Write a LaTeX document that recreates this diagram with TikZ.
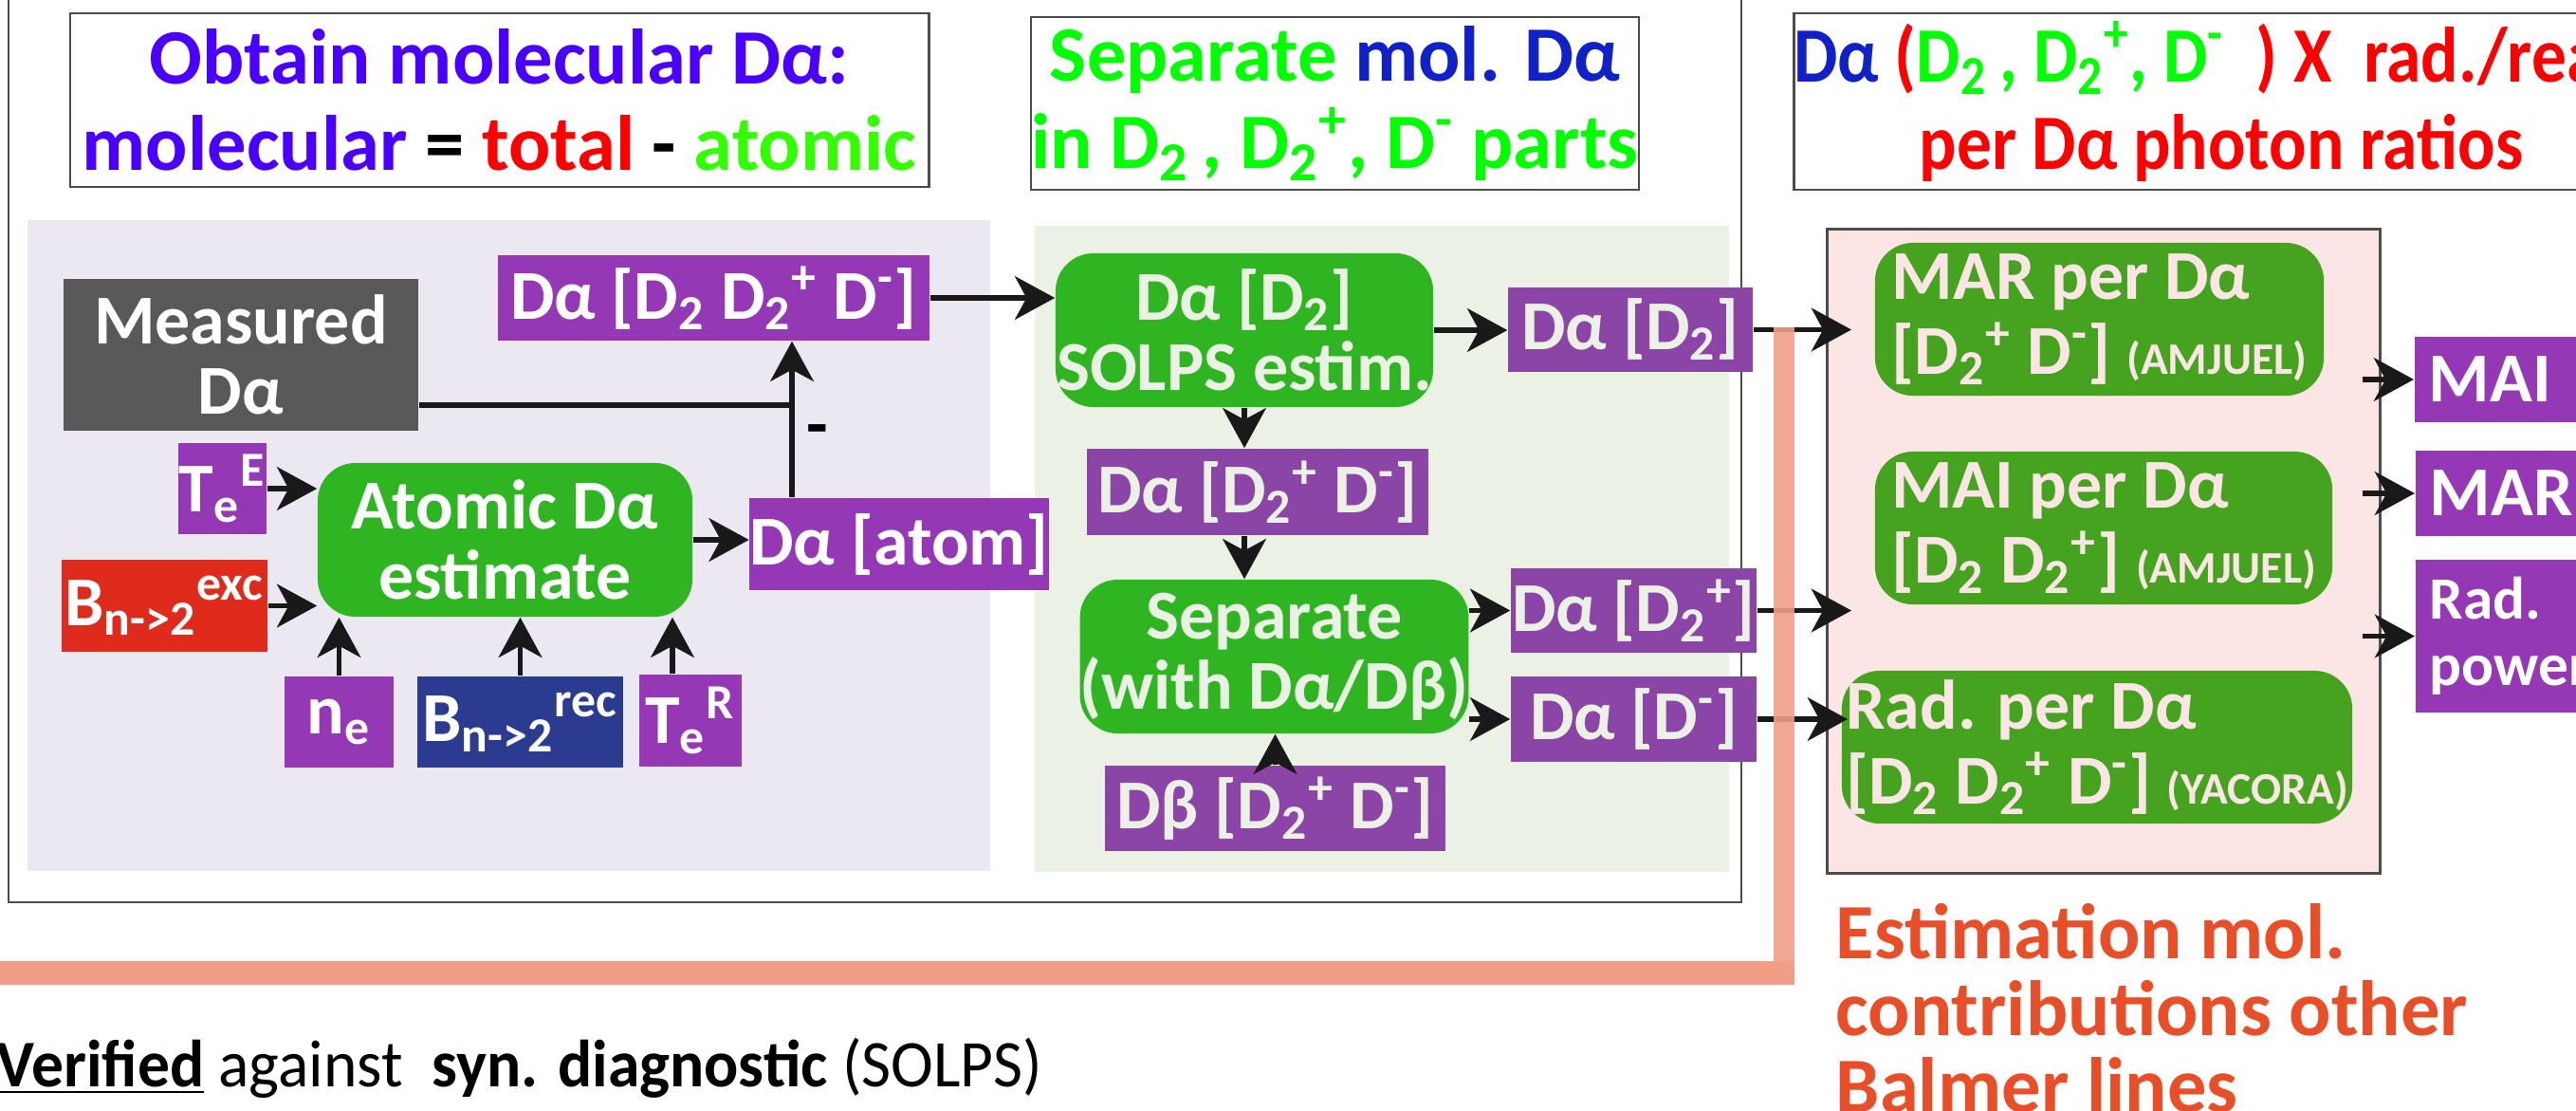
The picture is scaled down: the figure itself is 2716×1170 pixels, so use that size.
\documentclass[tikz,border=0pt]{standalone}
\usepackage{fontspec}
\setmainfont{Carlito}
\newfontfamily\noteface[FakeStretch=0.96]{Carlito}
\newfontfamily\ratioface[FakeStretch=0.89]{Carlito}
\usetikzlibrary{arrows.meta,positioning}
\definecolor{violetT}{rgb}{0.29, 0.0, 1.0}
\definecolor{redT}{rgb}{1.0, 0.0, 0.0}
\definecolor{greenT}{rgb}{0.2, 1.0, 0.0}
\definecolor{limeT}{rgb}{0.0, 1.0, 0.0}
\definecolor{blueT}{rgb}{0.06, 0.13, 0.78}
\definecolor{lavender}{rgb}{0.92, 0.91, 0.95}
\definecolor{mint}{rgb}{0.92, 0.945, 0.9}
\definecolor{blush}{rgb}{0.99, 0.9, 0.9}
\definecolor{plum}{rgb}{0.58, 0.22, 0.71}
\definecolor{plumB}{rgb}{0.545, 0.27, 0.65}
\definecolor{leaf}{rgb}{0.18, 0.71, 0.13}
\definecolor{leafB}{rgb}{0.27, 0.64, 0.12}
\definecolor{slate}{rgb}{0.35, 0.35, 0.35}
\definecolor{brick}{rgb}{0.87, 0.17, 0.11}
\definecolor{navyB}{rgb}{0.17, 0.23, 0.56}
\definecolor{salmon}{rgb}{0.95, 0.62, 0.53}
\definecolor{rust}{rgb}{0.91, 0.31, 0.16}
\definecolor{edge}{rgb}{0.3, 0.3, 0.3}
\newcommand{\boxfont}{\fontsize{21}{21}\selectfont\bfseries}
\newcommand{\ratiofont}{\fontsize{21}{22.5}\selectfont\bfseries}
\newcommand{\titlefont}{\fontsize{23.5}{26}\selectfont\bfseries}
\newcommand{\smallfont}{\fontsize{13.5}{14}\selectfont}
\newcommand{\notefont}{\noteface\fontsize{20}{24}\selectfont}
\newcommand{\orangefont}{\fontsize{23.5}{23}\selectfont\bfseries}
\newcommand{\Dtwo}{D\textsubscript{2}}
\newcommand{\Dplus}{D\textsubscript{2}\textsuperscript{+}}
\newcommand{\Dminus}{D\textsuperscript{-}}

\begin{document}
\begin{tikzpicture}[x=0.01cm,y=-0.01cm,>={Stealth[length=12pt,width=13pt,inset=3.5pt]},
  flow/.style={fill=plum,text=white,inner sep=0pt,align=center,font=\boxfont},
  flowB/.style={flow,fill=plumB,text=mint},
  proc/.style={fill=leaf,text=white,rounded corners=0.4cm,inner sep=0pt,align=center,font=\boxfont},
  procM/.style={proc,text=mint},
  procB/.style={proc,fill=leafB,text=blush,align=left,font=\ratiofont},
  title/.style={draw=edge,line width=0.7pt,fill=white,inner sep=0pt,align=center,font=\titlefont},
  link/.style={->,line width=1.5pt,black!90}]
\useasboundingbox (0,0) rectangle (2716,1170);
\clip (0,0) rectangle (2716,1170);

% frame and panels
\draw[edge,line width=0.6pt] (9,-20) rectangle (1836,951);
\fill[lavender] (29,232) rectangle (1044,918);
\fill[mint] (1091,238) rectangle (1823,919);
\node[draw=edge,line width=0.8pt,fill=blush,minimum width=5.82cm,minimum height=6.78cm] (pink) at (2218,581) {};

% titles
\node[title,minimum width=9.05cm,minimum height=1.83cm] (tobtain) at (526.5,105.5)
  {\color{violetT}Obtain molecular Dα:\\ {\color{violetT}molecular} {\color{black}=} {\color{redT}total} {\color{black}-} {\color{greenT}atomic}};
\node[title,minimum width=6.41cm,minimum height=1.82cm] (tsep) at (1407.5,109)
  {{\color{limeT}Separate} {\color{blueT}mol. Dα}\\ {\color{limeT}in \Dtwo\,, \Dplus, \Dminus\ parts}};
\node[title,minimum width=8.96cm,minimum height=1.86cm,font=\ratioface\titlefont] (tratio) at (2342,107)
  {{\color{blueT}Dα} {\color{redT}(}{\color{limeT}\Dtwo\,, \Dplus, \Dminus}{\color{redT}\ \ ) X\ \ rad./reac.}\\ {\color{redT}per Dα photon ratios}};

% atomic part
\node[fill=slate,text=white,font=\boxfont,align=center,minimum width=3.74cm,minimum height=1.6cm] (meas) at (254,374) {Measured\\Dα};
\node[flow,minimum width=4.55cm,minimum height=0.9cm] (daall) at (752.5,314) {Dα [\Dtwo\ \Dplus\ \Dminus]};
\node[flow,minimum width=0.93cm,minimum height=0.96cm] (teE) at (234.5,515) {T\textsubscript{e}\textsuperscript{E}};
\node[proc,minimum width=3.95cm,minimum height=1.62cm] (atomic) at (532.5,569) {Atomic Dα\\estimate};
\node[flow,fill=brick,minimum width=2.17cm,minimum height=0.97cm] (bexc) at (173.5,638.5) {B\textsubscript{n->2}\textsuperscript{exc}};
\node[flow,minimum width=3.05cm,minimum height=0.97cm] (daatom) at (948,573.5) {Dα [atom]};
\node[flow,minimum width=1.15cm,minimum height=0.96cm] (ne) at (357.5,761) {n\textsubscript{e}};
\node[flow,fill=navyB,minimum width=2.17cm,minimum height=0.96cm] (brec) at (548.5,761) {B\textsubscript{n->2}\textsuperscript{rec}};
\node[flow,minimum width=1.08cm,minimum height=0.97cm] (teR) at (728,759.5) {T\textsubscript{e}\textsuperscript{R}};

\coordinate (jn) at (835,427);
\draw[line width=1.5pt,black!90] (meas.east |- jn) -- (jn);
\draw[link] (jn |- daatom.north) -- (jn |- daall.south);
\node[font=\boxfont] (minus) at (862,460) {-};
\draw[link] (teE.east) -- (teE.east -| atomic.west);
\draw[link] (bexc.east) -- (bexc.east -| atomic.west);
\draw[link] (ne.north) -- (ne.north |- atomic.south);
\draw[link] (brec.north) -- (brec.north |- atomic.south);
\draw[link] ([xshift=-0.19cm]teR.north) -- ([xshift=-0.19cm]teR.north |- atomic.south);
\draw[link] (atomic.east) -- (atomic.east -| daatom.west);

% molecular separation
\node[procM,minimum width=3.98cm,minimum height=1.62cm] (sol) at (1312,348) {Dα [\Dtwo]\\SOLPS estim.};
\node[flowB,minimum width=2.58cm,minimum height=0.89cm] (dad2) at (1719,347.5) {Dα [\Dtwo]};
\node[flowB,minimum width=3.6cm,minimum height=0.91cm] (dapm) at (1326,518.5) {Dα [\Dplus\ \Dminus]};
\node[procM,minimum width=3.97cm,minimum height=1.62cm] (sep) at (1343.5,692) {Separate\\(with Dα/Dβ)};
\node[flowB,minimum width=3.59cm,minimum height=0.9cm] (dbeta) at (1344.5,852) {Dβ [\Dplus\ \Dminus]};
\node[flowB,minimum width=2.59cm,minimum height=0.89cm] (dad2p) at (1722.5,643.5) {Dα [\Dplus]};
\node[flowB,minimum width=2.59cm,minimum height=0.9cm] (dadm) at (1722.5,758) {Dα [\Dminus]};

\draw[link] (daall.east) -- (daall.east -| sol.west);
\draw[link] (sol.east) -- (sol.east -| dad2.west);
\draw[link] (sol.south) -- (sol.south |- dapm.north);
\draw[link] (sol.south |- dapm.south) -- (sol.south |- sep.north);
\draw[link] (dbeta.north) -- (dbeta.north |- sep.south);
\draw[link] (sep.east |- dad2p.west) -- (dad2p.west);
\draw[link] (sep.east |- dadm.west) -- (dadm.west);

% ratios
\node[procB,minimum width=4.73cm,minimum height=1.61cm] (mar) at (2213.5,336.5) {MAR per Dα\\{}[\Dplus\ \Dminus] {\smallfont(AMJUEL)}};
\node[procB,minimum width=4.82cm,minimum height=1.61cm] (mai) at (2218,556.5) {MAI per Dα\\{}[\Dtwo\ \Dplus] {\smallfont(AMJUEL)}};
\node[procB,minimum width=5.38cm,minimum height=1.61cm] (rad) at (2211,787.5) {Rad. per Dα\\{}[\Dtwo\ \Dplus\ \Dminus] {\smallfont(YACORA)}};
\node[flow,anchor=west,align=left,text width=2.3cm,inner xsep=0.15cm,minimum height=0.9cm] (omai) at (2545,400) {MAI};
\node[flow,anchor=west,align=left,text width=2.3cm,inner xsep=0.15cm,minimum height=0.9cm] (omar) at (2546,520) {MAR};
\node[flow,anchor=west,align=left,text width=2.3cm,inner xsep=0.15cm,minimum height=1.61cm,font=\fontsize{18}{20}\selectfont\bfseries] (orad) at (2546,670.5) {Rad.\\power};

\coordinate (inmar) at (1952,347.5);
\coordinate (inmai) at (1952,643.5);
\coordinate (inrad) at (1948,758);
\draw[link] (dad2.east) -- (inmar);
\draw[link] (dad2p.east) -- (inmai);
\draw[link] (dadm.east) -- (inrad);
\draw[link] ([xshift=-0.2cm]pink.east |- omai.west) -- (omai.west);
\draw[link] ([xshift=-0.2cm]pink.east |- omar.west) -- (omar.west);
\draw[link] ([xshift=-0.2cm]pink.east |- orad.west) -- (orad.west);

% verification line
\draw[salmon,opacity=0.9,line width=0.22cm] (1881,345) -- (1881,1030);
\draw[salmon,line width=0.25cm] (-10,1025) -- (1892,1025);

\node[anchor=west,font=\notefont,inner sep=0pt] (note) at (-4,1126)
  {\underline{\textbf{Verified}} against\ \ \textbf{syn. diagnostic} (SOLPS)};
\node[anchor=north west,text=rust,font=\orangefont,align=left,inner sep=0pt] (balmer) at (1935,952)
  {Estimation mol.\\contributions other\\Balmer lines};
\end{tikzpicture}
\end{document}
